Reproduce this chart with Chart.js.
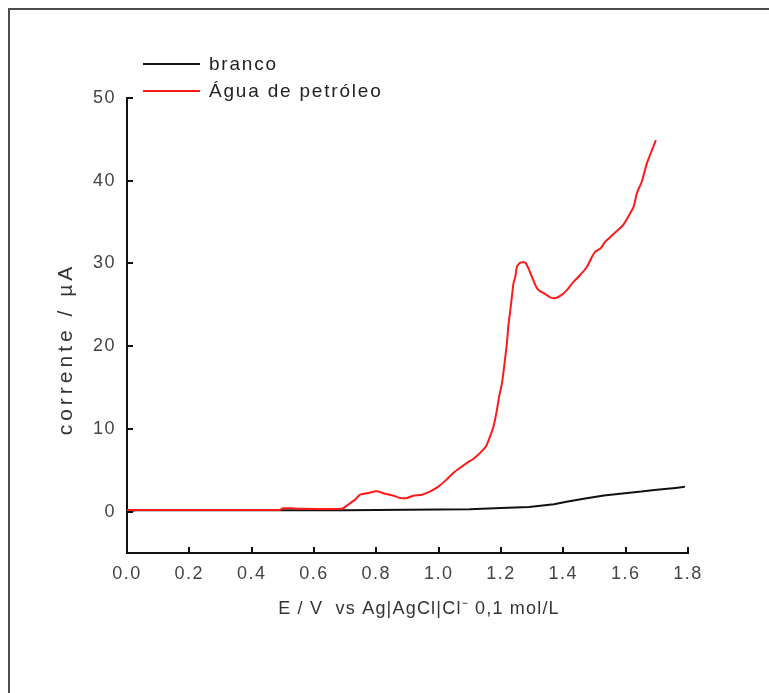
<!DOCTYPE html>
<html>
<head>
<meta charset="utf-8">
<script src="https://cdn.jsdelivr.net/npm/chart.js@4.4.1/dist/chart.umd.min.js"></script>
<style>
  html, body { margin: 0; padding: 0; background: #fff; overflow: hidden; }
  #frame { position: absolute; left: 8px; top: 8px; width: 900px; height: 900px; border: 2px solid #4d4d4d; }
  #myChart { position: absolute; left: 0; top: 0; }
</style>
</head>
<body>
<div id="frame"></div>
<canvas id="myChart" width="769" height="693"></canvas>
<script>
// voltammograms: potential (V) and current (uA)
var brancoE = [0.00, 0.03, 0.70, 1.10, 1.20, 1.29, 1.37, 1.41, 1.47, 1.53, 1.59, 1.65, 1.70, 1.76, 1.79];
var brancoI = [0.05, 0.16, 0.18, 0.30, 0.45, 0.55, 0.90, 1.20, 1.60, 1.95, 2.20, 2.42, 2.65, 2.87, 3.00];

var aguaE = [0.00, 0.49, 0.50, 0.53, 0.55, 0.69, 0.705, 0.732, 0.748, 0.775, 0.802, 0.828, 0.855, 0.876,
  0.898, 0.919, 0.946, 0.973, 1.000, 1.026, 1.048, 1.069, 1.091, 1.112, 1.133, 1.152, 1.165, 1.176,
  1.187, 1.194, 1.203, 1.210, 1.219, 1.224, 1.230, 1.235, 1.240, 1.246, 1.251, 1.262, 1.278, 1.288,
  1.299, 1.310, 1.320, 1.342, 1.358, 1.374, 1.395, 1.412, 1.433, 1.454, 1.476, 1.492, 1.502, 1.519,
  1.534, 1.551, 1.577, 1.593, 1.609, 1.626, 1.636, 1.652, 1.668, 1.697];
var aguaI = [0.20, 0.20, 0.40, 0.40, 0.35, 0.35, 0.72, 1.45, 2.05, 2.26, 2.45, 2.17, 1.93, 1.65,
  1.65, 1.93, 2.05, 2.45, 3.06, 3.90, 4.70, 5.30, 5.90, 6.40, 7.10, 7.90, 9.10, 10.3,
  12.3, 13.9, 15.5, 17.5, 20.4, 22.6, 24.4, 26.0, 27.6, 28.4, 29.6, 30.1, 30.1, 29.4,
  28.4, 27.4, 26.8, 26.3, 25.9, 25.8, 26.2, 26.8, 27.8, 28.6, 29.6, 30.8, 31.4, 31.8,
  32.6, 33.2, 34.1, 34.7, 35.7, 36.9, 38.5, 39.9, 42.1, 44.9];

var xTitle = 'E / V  vs Ag|AgCl|Cl\u207B 0,1 mol/L';
var yTitle = 'corrente / \u00B5A';

function pts(xs, ys) {
  return xs.map(function (x, i) { return {x: x, y: ys[i]}; });
}

var fontFam = '"Liberation Sans", Arial, sans-serif';

// legend + axis titles drawn by hand so the letter spacing can be set
var textPlugin = {
  id: 'textPlugin',
  beforeDraw: function (chart) {
    chart.ctx.letterSpacing = '1.5px';
  },
  afterDraw: function (chart) {
    var ctx = chart.ctx;
    var area = chart.chartArea;
    ctx.save();
    ctx.font = '19px ' + fontFam;
    ctx.letterSpacing = '1.8px';
    ctx.textBaseline = 'middle';
    ctx.textAlign = 'left';
    chart.data.datasets.forEach(function (ds, i) {
      var y = area.top - 34 + i * 27;
      ctx.strokeStyle = ds.borderColor;
      ctx.lineWidth = 2;
      ctx.beginPath();
      ctx.moveTo(area.left + 16, y);
      ctx.lineTo(area.left + 73, y);
      ctx.stroke();
      ctx.fillStyle = '#222';
      ctx.fillText(ds.label, area.left + 82, y + 1);
    });

    ctx.fillStyle = '#333';
    ctx.font = '18px ' + fontFam;
    ctx.letterSpacing = '1.2px';
    ctx.textAlign = 'center';
    ctx.fillText(xTitle, 419, 609);

    ctx.translate(72, 349);
    ctx.rotate(-Math.PI / 2);
    ctx.font = '21px ' + fontFam;
    ctx.letterSpacing = '4px';
    ctx.textBaseline = 'alphabetic';
    ctx.fillText(yTitle, 0, 0);
    ctx.restore();
  }
};

var ctx = document.getElementById('myChart');

new Chart(ctx, {
  type: 'line',
  data: {
    datasets: [
      {label: 'branco', data: pts(brancoE, brancoI), borderColor: '#111', borderWidth: 2,
        pointRadius: 0, tension: 0, order: 1},
      {label: '\u00C1gua de petr\u00F3leo', data: pts(aguaE, aguaI), borderColor: '#ff1a1a', borderWidth: 2,
        pointRadius: 0, tension: 0.2, order: 0}
    ]
  },
  options: {
    responsive: false,
    animation: false,
    layout: {padding: {top: 98, right: 81, bottom: 0, left: 0}},
    plugins: {legend: {display: false}, tooltip: {enabled: false}},
    scales: {
      x: {
        type: 'linear',
        min: 0,
        max: 1.8,
        afterFit: function (s) { s.height = 140; },
        border: {color: '#111', width: 2},
        grid: {drawOnChartArea: false, color: '#111', lineWidth: 2, tickLength: -6},
        ticks: {
          stepSize: 0.2,
          padding: 16,
          color: '#444',
          font: {family: fontFam, size: 18},
          callback: function (v) { return v.toFixed(1); }
        }
      },
      y: {
        min: -5,
        max: 50,
        afterFit: function (s) { s.width = 127; },
        afterBuildTicks: function (s) {
          s.ticks = s.ticks.filter(function (t) { return t.value >= 0; });
        },
        border: {color: '#111', width: 2},
        grid: {drawOnChartArea: false, color: '#111', lineWidth: 2, tickLength: -6},
        ticks: {
          stepSize: 10,
          padding: 17,
          color: '#444',
          font: {family: fontFam, size: 18}
        }
      }
    }
  },
  plugins: [textPlugin]
});
</script>
</body>
</html>
